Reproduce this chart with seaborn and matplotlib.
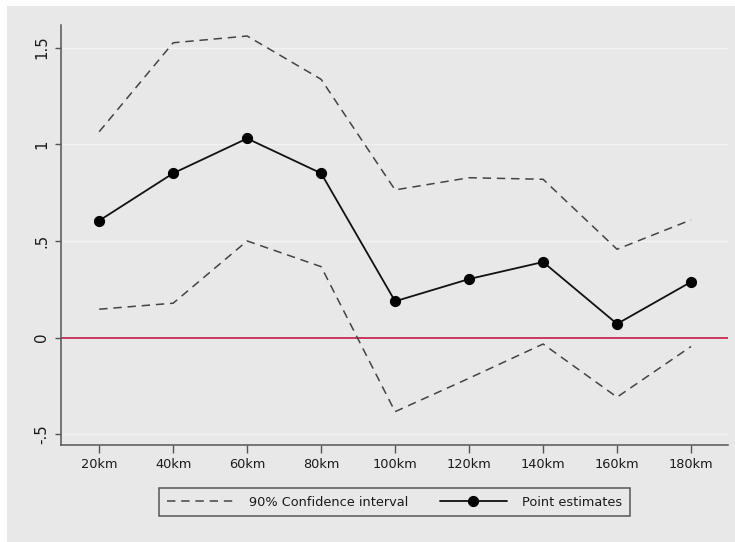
import matplotlib
matplotlib.use("Agg")
import matplotlib.pyplot as plt
from matplotlib.patches import Rectangle
import numpy as np
import pandas as pd
import seaborn as sns

# Distance bands and estimates
distances = ["20km", "40km", "60km", "80km", "100km", "120km", "140km", "160km", "180km"]
point_estimates = [0.605, 0.85, 1.03, 0.85, 0.188, 0.303, 0.391, 0.071, 0.288]
ci_upper = [1.065, 1.525, 1.56, 1.336, 0.764, 0.827, 0.819, 0.457, 0.609]
ci_lower = [0.147, 0.178, 0.50, 0.367, -0.383, -0.21, -0.033, -0.308, -0.046]
y_ticks = [-0.5, 0, 0.5, 1, 1.5]
y_tick_labels = ["-.5", "0", ".5", "1", "1.5"]

df = pd.DataFrame({
    "pos": np.arange(len(distances)),
    "distance": distances,
    "estimate": point_estimates,
    "upper": ci_upper,
    "lower": ci_lower,
})

BG = "#e8e8e8"
AXIS = "#555555"

sns.set_style("ticks")
plt.rcParams["font.family"] = ["DejaVu Sans"]

fig = plt.figure(figsize=(7.35, 5.42), dpi=100)
fig.patch.set_facecolor(BG)
# thin white strips along the top and left edges
fig.add_artist(Rectangle((0, 0), 7 / 735, 1, transform=fig.transFigure,
                         facecolor="white", edgecolor="none", zorder=-10))
fig.add_artist(Rectangle((0, (542 - 6) / 542), 1, 6 / 542, transform=fig.transFigure,
                         facecolor="white", edgecolor="none", zorder=-10))

ax = fig.add_axes([0.0826, 0.1784, 0.9079, 0.7755])
ax.set_facecolor(BG)

# horizontal grid
for t in y_ticks:
    ax.axhline(t, color="#f3f3f3", lw=1.0, zorder=0)

ax.axhline(0, color="#c8385c", lw=1.4, zorder=1)

dash = (0, (5.5, 3.8))
sns.lineplot(data=df, x="pos", y="upper", ax=ax, color="#444444", lw=1.1,
             linestyle=dash, label="90% Confidence interval", zorder=2)
sns.lineplot(data=df, x="pos", y="lower", ax=ax, color="#444444", lw=1.1,
             linestyle=dash, label="_nolegend_", zorder=2)
sns.lineplot(data=df, x="pos", y="estimate", ax=ax, color="#111111", lw=1.3,
             marker="o", markersize=7.3, markeredgecolor="black",
             markerfacecolor="black", label="Point estimates", zorder=3)

ax.set_xlim(-0.52, 8.5)
ax.set_ylim(-0.557, 1.617)
ax.set_xticks(df["pos"])
ax.set_xticklabels(distances)
ax.set_yticks(y_ticks)
ax.set_yticklabels(y_tick_labels, rotation=90, va="center")
ax.set_xlabel("")
ax.set_ylabel("")

for side in ["top", "right"]:
    ax.spines[side].set_visible(False)
for side in ["left", "bottom"]:
    ax.spines[side].set_color(AXIS)
    ax.spines[side].set_linewidth(1.1)

ax.tick_params(axis="x", length=5.8, width=1.0, color=AXIS, pad=3.2,
               labelsize=9.3, labelcolor="#1a1a1a")
ax.tick_params(axis="y", length=4.3, width=1.0, color=AXIS, pad=4,
               labelsize=10.8, labelcolor="#1a1a1a")

handles, labels = ax.get_legend_handles_labels()
ax.get_legend().remove()
leg = fig.legend(handles, labels, loc="center", bbox_to_anchor=(0.5367, 0.0738),
                 ncol=2, fontsize=9.3, frameon=True, fancybox=False,
                 framealpha=1, facecolor=BG, edgecolor=AXIS,
                 handlelength=5.2, handletextpad=1.2, columnspacing=2.4,
                 borderpad=0.6, numpoints=1)
leg.get_frame().set_linewidth(1.1)
for txt in leg.get_texts():
    txt.set_color("#1a1a1a")

fig.savefig("out.png", dpi=100, facecolor=fig.get_facecolor())
